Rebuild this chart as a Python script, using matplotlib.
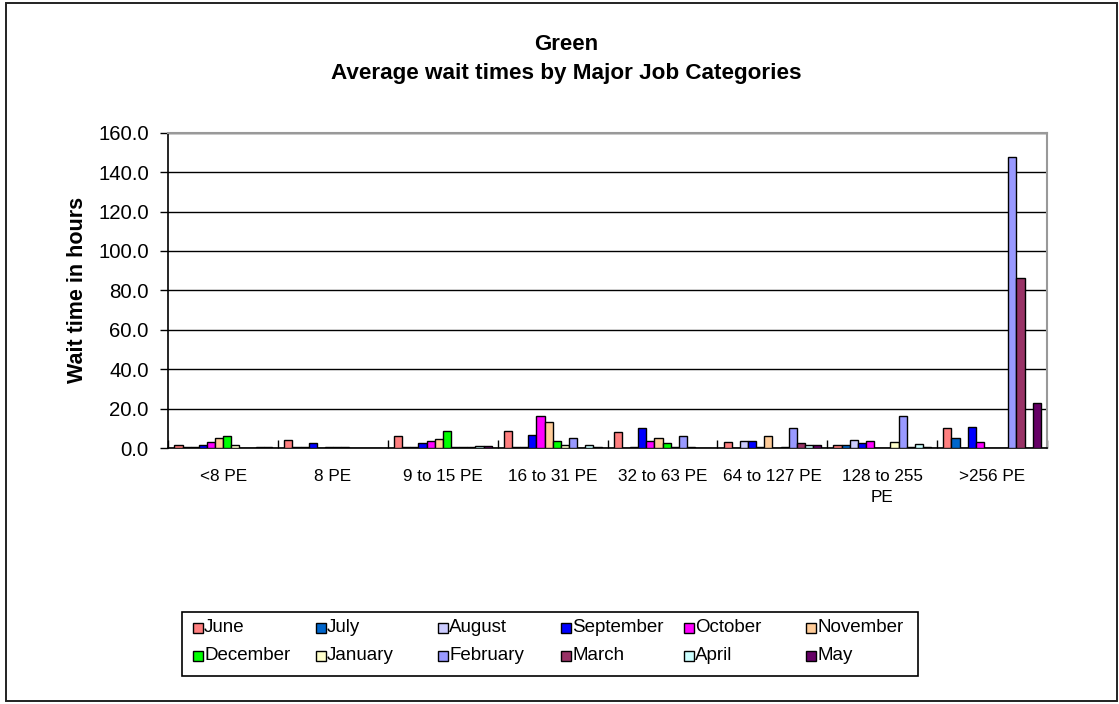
import matplotlib
matplotlib.use("Agg")
import matplotlib.pyplot as plt
from matplotlib.patches import Rectangle
import numpy as np

plt.rcParams['font.family'] = ['Liberation Sans', 'DejaVu Sans']

categories = ["<8 PE", "8 PE", "9 to 15 PE", "16 to 31 PE", "32 to 63 PE",
              "64 to 127 PE", "128 to 255\nPE", ">256 PE"]

months = ["June", "July", "August", "September", "October", "November",
          "December", "January", "February", "March", "April", "May"]

june      = [1.4, 3.9, 5.9, 8.8, 8.1, 2.9, 1.4, 10.2]
july      = [0.4, 0.4, 0.4, 0.4, 0.0, 0.0, 1.4, 5.1]
august    = [0.4, 0.4, 0.4, 0.4, 0.4, 3.7, 4.2, 0.0]
september = [1.5, 2.4, 2.4, 6.8, 10.0, 3.7, 2.7, 10.9]
october   = [2.9, 0.0, 3.7, 16.2, 3.7, 0.4, 3.5, 2.9]
november  = [5.2, 0.4, 4.4, 13.1, 5.2, 5.9, 0.0, 0.0]
december  = [5.9, 0.4, 8.8, 3.7, 2.4, 0.0, 0.0, 0.0]
january   = [1.5, 0.4, 0.4, 1.4, 0.4, 0.4, 2.9, 0.0]
february  = [0.0, 0.0, 0.4, 5.2, 5.9, 10.0, 16.3, 147.9]
march     = [0.0, 0.0, 0.4, 0.0, 0.4, 2.7, 0.4, 86.1]
april     = [0.4, 0.0, 1.2, 1.4, 0.0, 1.4, 2.2, 0.0]
may       = [0.4, 0.0, 1.2, 0.4, 0.0, 1.4, 0.4, 22.7]

series = [june, july, august, september, october, november,
          december, january, february, march, april, may]

colors = ["#FF8080", "#0066CC", "#CCCCFF", "#0000FF", "#FF00FF", "#FFCC99",
          "#00FF00", "#FFFFCC", "#9999FF", "#993366", "#CCFFFF", "#660066"]

W, H = 1119, 704
fig = plt.figure(figsize=(W / 100, H / 100), dpi=100)
fig.patch.set_facecolor("white")

# outer chart border
fig.add_artist(Rectangle((6 / W, 1 - 701 / H), (1117 - 6) / W, (701 - 3) / H,
                         transform=fig.transFigure, fill=False,
                         edgecolor="#222222", linewidth=1.4))

ax_l, ax_r, ax_t, ax_b = 168.3, 1047, 132.7, 448
ax = fig.add_axes([ax_l / W, 1 - ax_b / H, (ax_r - ax_l) / W, (ax_b - ax_t) / H])

n = len(series)
slots = n + 1.5            # Excel-like gap width of 150%
bw = 1.0 / slots
x = np.arange(len(categories))
for i, (vals, col, name) in enumerate(zip(series, colors, months)):
    pos = x - 0.5 + (0.75 + i + 0.5) * bw
    ax.bar(pos, vals, width=bw, color=col, edgecolor="black",
           linewidth=1.0, label=name, zorder=3)

ax.set_xlim(-0.5, len(categories) - 0.5)
ax.set_ylim(0, 160)
ax.set_yticks(np.arange(0, 161, 20))
ax.set_yticklabels([f"{v:.1f}" for v in np.arange(0, 161, 20)], fontsize=14.7)
ax.yaxis.grid(True, color="black", linewidth=1.0, zorder=0)
ax.set_axisbelow(True)

# category labels centred, ticks at category boundaries
ax.set_xticks(np.arange(len(categories) + 1) - 0.5)
ax.set_xticklabels([])
ax.tick_params(axis="x", direction="in", length=6, width=1.0, color="black")
ax.tick_params(axis="y", direction="out", length=6, width=1.0, pad=8)
for xi, lab in zip(x, categories):
    ax.text(xi, -10.5, lab, ha="center", va="top", fontsize=12.3,
            linespacing=1.55, transform=ax.transData)

for side in ["top", "right"]:
    ax.spines[side].set_color("#999999")
    ax.spines[side].set_linewidth(1.5)
for side in ["left", "bottom"]:
    ax.spines[side].set_color("black")
    ax.spines[side].set_linewidth(1.2)

ax.set_ylabel("Wait time in hours", fontsize=15.5, fontweight="bold", labelpad=7)

fig.text(566 / W, 1 - 45 / H, "Green", ha="center", va="center",
         fontsize=16, fontweight="bold")
fig.text(566 / W, 1 - 73 / H, "Average wait times by Major Job Categories",
         ha="center", va="center", fontsize=16.2, fontweight="bold")

# legend box drawn as a grid of 6 columns x 2 rows
lg_l, lg_r, lg_t, lg_b = 182, 918, 612, 676
fig.add_artist(Rectangle((lg_l / W, 1 - lg_b / H), (lg_r - lg_l) / W, (lg_b - lg_t) / H,
                         transform=fig.transFigure, fill=False,
                         edgecolor="black", linewidth=1.2))
col_w = (lg_r - lg_l) / 6
row_y = [628, 656]
sq = 10
for i, (name, col) in enumerate(zip(months, colors)):
    r, c = divmod(i, 6)
    mx = lg_l + 11 + c * col_w
    my = row_y[r]
    fig.add_artist(Rectangle((mx / W, 1 - (my + sq / 2) / H), sq / W, sq / H,
                             transform=fig.transFigure, facecolor=col,
                             edgecolor="black", linewidth=1.0))
    fig.text((mx + sq + 1) / W, 1 - my / H, name, ha="left", va="center",
             fontsize=13.5)

fig.savefig("out.png", dpi=100)
